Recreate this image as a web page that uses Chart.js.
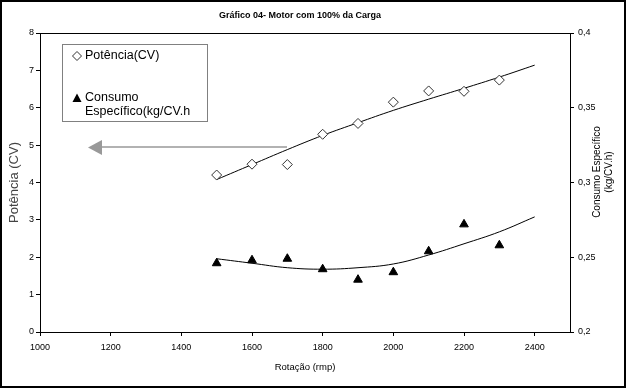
<!DOCTYPE html>
<html>
<head>
<meta charset="utf-8">
<script src="https://cdn.jsdelivr.net/npm/chart.js@4.4.1/dist/chart.umd.min.js"></script>
<style>
  body { margin: 0; background: #fff; }
  canvas { display: block; }
</style>
</head>
<body>
<canvas id="graficoMotor" width="626" height="388"></canvas>
<script>
  const rotacao = [1500, 1600, 1700, 1800, 1900, 2000, 2100, 2200, 2300];
  const potencia = [4.2, 4.49, 4.48, 5.29, 5.58, 6.15, 6.45, 6.44, 6.74];
  const consumo = [0.246, 0.248, 0.249, 0.242, 0.235, 0.240, 0.254, 0.272, 0.258];

  // Linhas de tendência
  const rotacaoTend = [1500, 1600, 1700, 1800, 1900, 2000, 2100, 2200, 2300, 2400];
  const potenciaTend = [4.08, 4.48, 4.88, 5.26, 5.6, 5.93, 6.23, 6.52, 6.82, 7.14];
  const consumoTend = [0.249, 0.246, 0.243, 0.242, 0.243, 0.2455, 0.2515, 0.259, 0.267, 0.277];

  const titulo = 'Gráfico 04- Motor com 100% da Carga';
  const fonte = '"Liberation Sans", Arial, sans-serif';

  const pares = (xs, ys) => xs.map((x, i) => ({ x: x, y: ys[i] }));

  // Moldura, título, legenda e seta desenhados à mão
  const extras = {
    id: 'extras',
    beforeDraw(chart) {
      const c = chart.ctx;
      c.save();
      c.fillStyle = '#fff';
      c.fillRect(0, 0, chart.width, chart.height);
      c.restore();
    },
    afterDraw(chart) {
      const c = chart.ctx;
      const a = chart.chartArea;
      c.save();
      // caixa da área do gráfico
      c.strokeStyle = '#000';
      c.lineWidth = 1;
      c.strokeRect(Math.round(a.left) + 0.5, Math.round(a.top) + 0.5, Math.round(a.right - a.left), Math.round(a.bottom - a.top));
      // moldura externa
      c.lineWidth = 2;
      c.strokeRect(1, 1, chart.width - 2, chart.height - 2);

      // título
      c.fillStyle = '#000';
      c.textAlign = 'center';
      c.textBaseline = 'middle';
      c.font = 'bold 9px ' + fonte;
      c.fillText(titulo, 300, 16);

      // título do eixo direito
      c.save();
      c.translate(597, 172);
      c.rotate(-Math.PI / 2);
      c.font = '10px ' + fonte;
      c.fillText('Consumo Específico', 0, 0);
      c.fillText('(kg/CV.h)', 0, 12);
      c.restore();

      // legenda
      c.strokeStyle = '#808080';
      c.lineWidth = 1;
      c.strokeRect(62.5, 44.5, 145, 77);
      c.textAlign = 'left';
      c.font = '12.5px ' + fonte;
      c.fillStyle = '#000';
      c.fillText('Potência(CV)', 85, 56);
      c.fillText('Consumo', 85, 98);
      c.fillText('Específico(kg/CV.h', 85, 112);
      c.fillStyle = '#fff';
      c.strokeStyle = '#333';
      c.beginPath();
      c.moveTo(77, 51.5); c.lineTo(81.5, 56); c.lineTo(77, 60.5); c.lineTo(72.5, 56); c.closePath();
      c.fill(); c.stroke();
      c.fillStyle = '#000';
      c.beginPath();
      c.moveTo(77, 93.5); c.lineTo(81.5, 102); c.lineTo(72.5, 102); c.closePath();
      c.fill();

      // seta apontando para o eixo esquerdo
      c.strokeStyle = '#999';
      c.fillStyle = '#999';
      c.lineWidth = 1.5;
      c.beginPath();
      c.moveTo(287, 147); c.lineTo(100, 147);
      c.stroke();
      c.beginPath();
      c.moveTo(88, 147.5); c.lineTo(102, 140); c.lineTo(102, 155); c.closePath();
      c.fill();
      c.restore();
    }
  };

  const ctx = document.getElementById('graficoMotor').getContext('2d');

  const grafico = new Chart(ctx, {
    type: 'scatter',
    data: {
      datasets: [
        {
          label: 'Potência(CV)',
          data: pares(rotacao, potencia),
          yAxisID: 'y',
          pointStyle: 'rectRot',
          pointRadius: 5,
          pointBackgroundColor: '#fff',
          pointBorderColor: '#333',
          pointBorderWidth: 1
        },
        {
          label: 'Consumo Específico(kg/CV.h',
          data: pares(rotacao, consumo),
          yAxisID: 'y1',
          pointStyle: 'triangle',
          pointRadius: 5,
          pointBackgroundColor: '#000',
          pointBorderColor: '#000',
          pointBorderWidth: 1
        },
        {
          label: 'Tendência potência',
          data: pares(rotacaoTend, potenciaTend),
          yAxisID: 'y',
          showLine: true,
          pointRadius: 0,
          borderColor: '#000',
          borderWidth: 1,
          tension: 0.4
        },
        {
          label: 'Tendência consumo',
          data: pares(rotacaoTend, consumoTend),
          yAxisID: 'y1',
          showLine: true,
          pointRadius: 0,
          borderColor: '#000',
          borderWidth: 1,
          tension: 0.4
        }
      ]
    },
    options: {
      responsive: false,
      animation: false,
      layout: { padding: { top: 33 } },
      plugins: {
        legend: { display: false },
        title: { display: false },
        tooltip: { enabled: false }
      },
      scales: {
        x: {
          type: 'linear',
          min: 1000,
          max: 2500,
          afterBuildTicks: s => { s.ticks = s.ticks.filter(t => t.value % 200 === 0); },
          afterFit: s => { s.height = 56; },
          ticks: { stepSize: 200, color: '#000', font: { family: fonte, size: 9 }, padding: 6, maxRotation: 0, autoSkip: false, callback: v => String(v) },
          grid: { drawOnChartArea: false, tickLength: 4, color: '#000' },
          border: { color: '#000' },
          title: { display: true, text: 'Rotação (rmp)', color: '#000', font: { family: fonte, size: 9.5 }, padding: { top: 0, bottom: 15 } }
        },
        y: {
          position: 'left',
          min: 0,
          max: 8,
          afterFit: s => { s.width = 40; },
          ticks: { stepSize: 1, color: '#000', font: { family: fonte, size: 9 }, padding: 2 },
          grid: { drawOnChartArea: false, tickLength: 4, color: '#000' },
          border: { color: '#000' },
          title: { display: true, text: 'Potência (CV)', color: '#444', font: { family: fonte, size: 13 }, padding: { top: 7, bottom: 0 } }
        },
        y1: {
          position: 'right',
          min: 0.2,
          max: 0.4,
          afterFit: s => { s.width = 56; },
          ticks: {
            stepSize: 0.05,
            color: '#000',
            font: { family: fonte, size: 9 },
            padding: 4,
            callback: v => Number(v.toFixed(2)).toString().replace('.', ',')
          },
          grid: { drawOnChartArea: false, tickLength: 4, color: '#000' },
          border: { color: '#000' }
        }
      }
    },
    plugins: [extras]
  });
</script>
</body>
</html>
